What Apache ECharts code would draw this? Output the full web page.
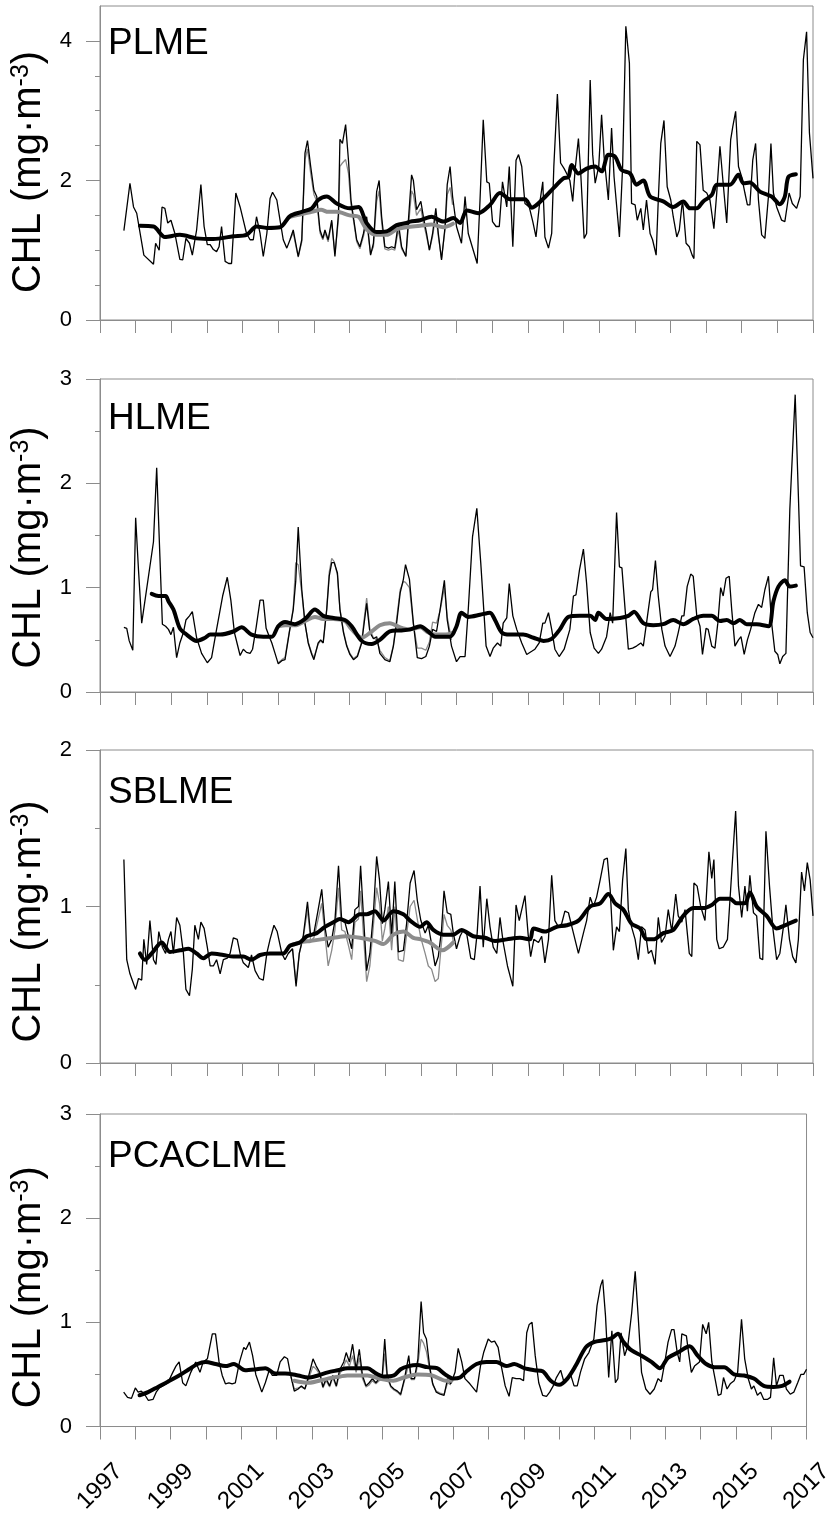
<!DOCTYPE html>
<html>
<head>
<meta charset="utf-8">
<script src="https://cdn.jsdelivr.net/npm/echarts@6/dist/echarts.min.js"></script>
<style>
html, body { margin: 0; padding: 0; background: #fff; }
#chart { width: 836px; height: 1516px; }
</style>
</head>
<body>
<div id="chart"></div>
<script>
// panels, y ticks and year labels
var panelNames = ['PLME', 'HLME', 'SBLME', 'PCACLME'];
var yMaxes = [4.5, 3, 2, 3];
var yTickLabels = [[0, 2, 4], [0, 1, 2, 3], [0, 1, 2], [0, 1, 2, 3]];
var yearLabels = [1997, 1999, 2001, 2003, 2005, 2007, 2009, 2011, 2013, 2015, 2017];

// [decimal year, CHL mg m-3]
// thin black = monthly, thick black = running mean, gray = second record (2002-2006)
var plmeMonthly = [[1997.67,1.28],[1997.84,1.96],[1997.94,1.62],[1998.03,1.53],[1998.23,0.93],[1998.50,0.80],[1998.56,1.10],[1998.66,1.00],[1998.74,1.62],[1998.82,1.60],[1998.90,1.39],[1998.99,1.43],[1999.10,1.24],[1999.24,0.87],[1999.32,0.86],[1999.41,1.17],[1999.51,1.10],[1999.59,0.93],[1999.71,1.29],[1999.83,1.94],[1999.92,1.34],[2000.01,1.08],[2000.09,1.08],[2000.18,1.01],[2000.27,0.98],[2000.34,1.05],[2000.41,1.34],[2000.51,0.84],[2000.61,0.81],[2000.69,0.81],[2000.81,1.82],[2000.93,1.62],[2001.02,1.43],[2001.11,1.24],[2001.21,1.15],[2001.30,1.15],[2001.39,1.48],[2001.49,1.24],[2001.58,0.91],[2001.68,1.24],[2001.77,1.74],[2001.84,1.83],[2001.96,1.72],[2002.05,1.43],[2002.14,1.15],[2002.24,1.03],[2002.33,1.15],[2002.42,1.29],[2002.56,0.91],[2002.66,1.15],[2002.75,2.39],[2002.82,2.57],[2002.91,2.20],[2003.00,1.86],[2003.08,1.77],[2003.17,1.29],[2003.25,1.17],[2003.31,1.29],[2003.40,1.15],[2003.50,1.43],[2003.59,0.91],[2003.69,1.53],[2003.73,2.59],[2003.80,2.53],[2003.89,2.80],[2003.97,2.29],[2004.04,1.72],[2004.12,1.43],[2004.20,1.15],[2004.29,1.05],[2004.39,1.24],[2004.48,1.48],[2004.59,0.93],[2004.67,1.10],[2004.76,1.84],[2004.83,2.00],[2004.90,1.48],[2004.99,1.05],[2005.09,1.03],[2005.18,1.05],[2005.27,1.03],[2005.37,1.39],[2005.46,1.05],[2005.58,0.91],[2005.74,2.08],[2005.79,2.00],[2005.88,1.58],[2006.00,1.70],[2006.07,1.48],[2006.16,1.24],[2006.24,1.00],[2006.33,1.24],[2006.42,1.60],[2006.49,1.24],[2006.58,0.86],[2006.68,1.34],[2006.74,1.94],[2006.82,2.20],[2006.89,1.77],[2007.00,1.34],[2007.14,1.10],[2007.24,1.77],[2007.33,1.24],[2007.47,1.00],[2007.58,0.81],[2007.66,1.72],[2007.75,2.87],[2007.85,1.98],[2007.92,1.96],[2008.01,1.41],[2008.11,1.34],[2008.20,1.34],[2008.29,1.98],[2008.41,1.62],[2008.48,2.20],[2008.58,1.05],[2008.67,2.29],[2008.74,2.37],[2008.83,2.20],[2008.92,1.67],[2009.04,1.62],[2009.14,1.41],[2009.23,1.19],[2009.32,1.62],[2009.42,1.98],[2009.48,1.19],[2009.58,1.03],[2009.67,1.24],[2009.73,2.20],[2009.83,3.24],[2009.92,2.25],[2010.02,2.17],[2010.09,2.10],[2010.18,2.00],[2010.26,1.70],[2010.33,2.17],[2010.42,2.60],[2010.48,2.15],[2010.58,1.17],[2010.65,1.24],[2010.75,3.44],[2010.82,2.37],[2010.89,1.96],[2010.99,2.20],[2011.07,2.94],[2011.14,2.34],[2011.26,1.72],[2011.35,2.75],[2011.42,2.05],[2011.57,1.19],[2011.66,2.20],[2011.75,4.21],[2011.85,3.68],[2011.91,1.67],[2012.01,1.65],[2012.07,1.43],[2012.17,1.60],[2012.24,1.29],[2012.33,1.72],[2012.43,1.24],[2012.50,1.15],[2012.60,0.93],[2012.66,1.72],[2012.73,2.53],[2012.82,2.86],[2012.91,1.91],[2013.01,1.72],[2013.08,1.48],[2013.18,1.19],[2013.25,1.29],[2013.34,1.72],[2013.44,1.10],[2013.53,1.05],[2013.61,0.93],[2013.66,0.88],[2013.74,2.56],[2013.83,2.51],[2013.92,1.86],[2014.02,1.82],[2014.11,1.72],[2014.22,1.31],[2014.30,1.82],[2014.39,2.49],[2014.48,1.96],[2014.58,1.39],[2014.69,2.58],[2014.75,2.77],[2014.83,2.99],[2014.91,2.20],[2015.00,2.05],[2015.09,1.82],[2015.16,1.65],[2015.23,1.65],[2015.31,2.29],[2015.39,2.53],[2015.47,1.72],[2015.56,1.22],[2015.65,1.17],[2015.75,1.77],[2015.82,2.53],[2015.89,1.82],[2015.98,1.62],[2016.12,1.43],[2016.21,1.41],[2016.33,1.82],[2016.42,1.67],[2016.54,1.60],[2016.64,1.77],[2016.73,3.73],[2016.82,4.13],[2016.90,2.68],[2017.00,2.03]];
var plmeMean = [[1998.12,1.35],[1998.50,1.34],[1998.82,1.19],[1999.24,1.22],[1999.71,1.17],[2000.18,1.16],[2000.74,1.20],[2001.11,1.22],[2001.39,1.34],[2001.68,1.32],[2002.05,1.33],[2002.33,1.49],[2002.66,1.55],[2002.94,1.60],[2003.12,1.72],[2003.36,1.77],[2003.64,1.67],[2004.01,1.60],[2004.25,1.62],[2004.48,1.39],[2004.76,1.26],[2005.04,1.27],[2005.32,1.36],[2005.60,1.39],[2005.70,1.41],[2005.98,1.43],[2006.30,1.48],[2006.63,1.41],[2006.91,1.46],[2007.10,1.39],[2007.29,1.57],[2007.61,1.53],[2007.94,1.65],[2008.22,1.82],[2008.50,1.73],[2008.92,1.73],[2009.11,1.61],[2009.44,1.74],[2009.72,1.89],[2010.00,2.03],[2010.14,2.05],[2010.23,2.22],[2010.42,2.10],[2010.65,2.17],[2010.89,2.20],[2011.07,2.13],[2011.26,2.37],[2011.45,2.34],[2011.63,2.15],[2011.87,2.10],[2012.05,1.94],[2012.24,2.00],[2012.43,1.77],[2012.80,1.70],[2013.08,1.62],[2013.36,1.70],[2013.55,1.60],[2013.74,1.60],[2013.92,1.70],[2014.16,1.79],[2014.30,1.94],[2014.67,1.94],[2014.91,2.08],[2015.05,1.96],[2015.23,1.97],[2015.51,1.84],[2015.84,1.77],[2016.07,1.66],[2016.21,1.77],[2016.31,2.05],[2016.52,2.09]];
var plmeMonthlyB = [[2002.33,1.15],[2002.42,1.25],[2002.56,0.90],[2002.66,1.12],[2002.75,2.30],[2002.82,2.45],[2002.91,2.10],[2003.00,1.80],[2003.08,1.70],[2003.17,1.25],[2003.25,1.15],[2003.31,1.25],[2003.40,1.12],[2003.50,1.40],[2003.59,0.95],[2003.69,1.45],[2003.73,2.20],[2003.80,2.25],[2003.89,2.30],[2003.97,2.10],[2004.04,1.65],[2004.12,1.40],[2004.20,1.12],[2004.29,1.02],[2004.39,1.20],[2004.48,1.40],[2004.59,0.95],[2004.67,1.05],[2004.76,1.70],[2004.83,1.85],[2004.90,1.40],[2004.99,1.02],[2005.09,1.00],[2005.18,1.02],[2005.27,1.00],[2005.37,1.30],[2005.46,1.02],[2005.58,0.92],[2005.74,1.85],[2005.79,1.80],[2005.88,1.50],[2006.00,1.60],[2006.07,1.40],[2006.16,1.20],[2006.24,1.00],[2006.33,1.20],[2006.42,1.50],[2006.49,1.20],[2006.58,0.88],[2006.68,1.30],[2006.74,1.80],[2006.82,1.90],[2006.89,1.65]];
var plmeMeanB = [[2002.33,1.48],[2002.66,1.52],[2002.94,1.55],[2003.20,1.58],[2003.40,1.55],[2003.64,1.55],[2004.00,1.50],[2004.25,1.48],[2004.48,1.30],[2004.76,1.22],[2005.04,1.22],[2005.32,1.30],[2005.60,1.33],[2005.98,1.35],[2006.30,1.37],[2006.63,1.33],[2006.90,1.38]];

var hlmeMonthly = [[1997.67,0.62],[1997.75,0.61],[1997.82,0.49],[1997.92,0.40],[1998.00,1.67],[1998.08,1.17],[1998.17,0.66],[1998.50,1.44],[1998.59,2.15],[1998.68,1.30],[1998.75,0.65],[1998.84,0.63],[1998.92,0.60],[1998.99,0.55],[1999.06,0.62],[1999.15,0.33],[1999.24,0.47],[1999.34,0.57],[1999.41,0.69],[1999.51,0.73],[1999.59,0.77],[1999.71,0.52],[1999.85,0.37],[2000.01,0.28],[2000.13,0.33],[2000.27,0.60],[2000.44,0.92],[2000.57,1.10],[2000.67,0.88],[2000.77,0.57],[2000.93,0.35],[2001.02,0.41],[2001.11,0.38],[2001.21,0.37],[2001.28,0.41],[2001.38,0.62],[2001.49,0.88],[2001.58,0.88],[2001.66,0.61],[2001.75,0.53],[2001.82,0.47],[2001.91,0.37],[2002.00,0.27],[2002.10,0.30],[2002.19,0.31],[2002.31,0.57],[2002.42,0.79],[2002.49,1.06],[2002.56,1.58],[2002.66,0.98],[2002.75,0.66],[2002.84,0.47],[2002.94,0.36],[2003.00,0.31],[2003.12,0.47],[2003.19,0.50],[2003.26,0.47],[2003.36,0.79],[2003.43,1.11],[2003.50,1.24],[2003.57,1.24],[2003.66,1.14],[2003.73,0.79],[2003.83,0.57],[2003.92,0.44],[2004.01,0.36],[2004.11,0.31],[2004.22,0.34],[2004.34,0.47],[2004.41,0.66],[2004.48,0.85],[2004.57,0.57],[2004.67,0.51],[2004.76,0.53],[2004.85,0.37],[2004.99,0.31],[2005.13,0.29],[2005.23,0.44],[2005.32,0.66],[2005.42,0.95],[2005.51,1.08],[2005.57,1.22],[2005.68,1.08],[2005.79,0.66],[2005.90,0.33],[2006.02,0.32],[2006.14,0.34],[2006.24,0.44],[2006.33,0.60],[2006.44,0.58],[2006.54,0.79],[2006.66,1.07],[2006.74,0.69],[2006.86,0.44],[2007.00,0.29],[2007.10,0.34],[2007.24,0.34],[2007.33,0.79],[2007.45,1.49],[2007.57,1.76],[2007.68,1.24],[2007.83,0.44],[2007.94,0.34],[2008.03,0.42],[2008.15,0.47],[2008.24,0.44],[2008.31,0.66],[2008.41,0.71],[2008.48,1.04],[2008.58,0.73],[2008.69,0.60],[2008.83,0.47],[2008.97,0.36],[2009.11,0.39],[2009.20,0.41],[2009.32,0.47],[2009.42,0.66],[2009.48,0.66],[2009.58,0.76],[2009.67,0.60],[2009.76,0.41],[2009.88,0.34],[2010.02,0.41],[2010.18,0.60],[2010.28,0.92],[2010.35,0.93],[2010.45,1.17],[2010.56,1.37],[2010.65,1.04],[2010.75,0.57],[2010.86,0.42],[2010.98,0.37],[2011.07,0.41],[2011.21,0.53],[2011.31,0.76],[2011.38,0.66],[2011.49,1.72],[2011.57,1.20],[2011.64,1.19],[2011.73,0.79],[2011.82,0.41],[2011.94,0.42],[2012.05,0.44],[2012.17,0.47],[2012.24,0.44],[2012.35,0.71],[2012.45,0.96],[2012.50,0.98],[2012.58,1.26],[2012.66,0.92],[2012.76,0.60],[2012.85,0.44],[2012.99,0.34],[2013.13,0.44],[2013.22,0.57],[2013.32,0.73],[2013.38,0.73],[2013.47,1.01],[2013.57,1.13],[2013.64,1.11],[2013.74,0.73],[2013.83,0.63],[2013.90,0.36],[2014.00,0.61],[2014.06,0.60],[2014.16,0.44],[2014.25,0.42],[2014.33,0.66],[2014.41,1.00],[2014.48,0.92],[2014.56,1.09],[2014.65,1.11],[2014.72,0.79],[2014.81,0.44],[2014.91,0.50],[2014.98,0.53],[2015.07,0.36],[2015.16,0.50],[2015.25,0.60],[2015.37,0.76],[2015.47,0.84],[2015.56,0.81],[2015.65,0.98],[2015.75,1.11],[2015.84,0.66],[2015.93,0.39],[2016.01,0.36],[2016.07,0.27],[2016.15,0.34],[2016.24,0.37],[2016.35,1.75],[2016.50,2.85],[2016.59,1.88],[2016.65,1.21],[2016.75,1.20],[2016.84,0.76],[2016.92,0.57],[2017.00,0.52]];
var hlmeMean = [[1998.45,0.94],[1998.64,0.92],[1998.84,0.92],[1998.92,0.87],[1999.06,0.79],[1999.24,0.61],[1999.43,0.55],[1999.71,0.49],[1999.95,0.52],[2000.09,0.55],[2000.37,0.55],[2000.74,0.58],[2000.97,0.62],[2001.25,0.55],[2001.58,0.53],[2001.82,0.53],[2002.00,0.63],[2002.19,0.67],[2002.47,0.65],[2002.75,0.70],[2003.03,0.79],[2003.26,0.73],[2003.55,0.71],[2003.87,0.69],[2004.06,0.63],[2004.34,0.49],[2004.62,0.46],[2004.85,0.50],[2005.13,0.58],[2005.42,0.59],[2005.70,0.60],[2005.98,0.63],[2006.21,0.58],[2006.40,0.53],[2006.82,0.53],[2007.00,0.63],[2007.14,0.76],[2007.33,0.72],[2007.66,0.74],[2007.94,0.76],[2008.08,0.69],[2008.27,0.57],[2008.50,0.55],[2008.87,0.55],[2009.16,0.52],[2009.44,0.49],[2009.67,0.51],[2009.90,0.60],[2010.14,0.72],[2010.46,0.73],[2010.75,0.73],[2010.89,0.69],[2010.98,0.76],[2011.21,0.70],[2011.59,0.71],[2011.82,0.73],[2011.98,0.77],[2012.24,0.66],[2012.52,0.64],[2012.80,0.65],[2013.08,0.69],[2013.36,0.65],[2013.64,0.70],[2013.92,0.73],[2014.16,0.73],[2014.39,0.68],[2014.58,0.69],[2014.77,0.66],[2014.95,0.69],[2015.14,0.65],[2015.42,0.65],[2015.75,0.63],[2015.89,0.87],[2016.03,1.01],[2016.21,1.07],[2016.35,1.01],[2016.52,1.02]];
var hlmeMonthlyB = [[2002.00,0.28],[2002.10,0.31],[2002.19,0.33],[2002.31,0.58],[2002.42,0.80],[2002.49,1.24],[2002.56,1.22],[2002.66,0.95],[2002.75,0.65],[2002.84,0.48],[2002.94,0.37],[2003.00,0.33],[2003.12,0.46],[2003.19,0.49],[2003.26,0.47],[2003.36,0.80],[2003.43,1.15],[2003.50,1.28],[2003.57,1.25],[2003.66,1.12],[2003.73,0.80],[2003.83,0.58],[2003.92,0.45],[2004.01,0.37],[2004.11,0.32],[2004.22,0.35],[2004.34,0.48],[2004.41,0.70],[2004.48,0.90],[2004.57,0.60],[2004.67,0.52],[2004.76,0.50],[2004.85,0.40],[2004.99,0.33],[2005.13,0.30],[2005.23,0.45],[2005.32,0.70],[2005.42,0.98],[2005.51,1.06],[2005.57,1.05],[2005.68,1.00],[2005.79,0.65],[2005.90,0.42],[2006.02,0.42],[2006.14,0.40],[2006.24,0.48],[2006.33,0.67],[2006.44,0.66],[2006.54,0.78],[2006.66,1.00],[2006.74,0.72],[2006.86,0.50]];
var hlmeMeanB = [[2002.00,0.63],[2002.20,0.64],[2002.47,0.64],[2002.75,0.68],[2003.03,0.72],[2003.26,0.70],[2003.55,0.70],[2003.87,0.68],[2004.06,0.60],[2004.34,0.52],[2004.62,0.58],[2004.85,0.64],[2005.13,0.66],[2005.42,0.62],[2005.70,0.60],[2005.98,0.62],[2006.21,0.57],[2006.40,0.55],[2006.70,0.55],[2006.90,0.57]];

var sblmeMonthly = [[1997.67,1.30],[1997.75,0.66],[1997.84,0.57],[1998.00,0.47],[1998.08,0.54],[1998.17,0.53],[1998.23,0.79],[1998.31,0.63],[1998.40,0.91],[1998.50,0.66],[1998.57,0.63],[1998.65,0.84],[1998.75,0.74],[1998.84,0.70],[1998.92,0.79],[1998.99,0.84],[1999.06,0.70],[1999.15,0.93],[1999.24,0.88],[1999.34,0.70],[1999.41,0.47],[1999.51,0.43],[1999.59,0.60],[1999.66,0.88],[1999.76,0.79],[1999.83,0.90],[1999.92,0.86],[2000.01,0.74],[2000.09,0.62],[2000.18,0.62],[2000.27,0.66],[2000.37,0.57],[2000.46,0.66],[2000.57,0.67],[2000.65,0.70],[2000.74,0.80],[2000.85,0.79],[2000.93,0.70],[2001.02,0.64],[2001.16,0.61],[2001.25,0.69],[2001.35,0.59],[2001.47,0.54],[2001.58,0.53],[2001.68,0.70],[2001.77,0.79],[2001.88,0.88],[2001.97,0.84],[2002.10,0.70],[2002.19,0.66],[2002.28,0.70],[2002.40,0.73],[2002.50,0.49],[2002.59,0.70],[2002.70,0.81],[2002.82,1.03],[2002.91,0.81],[2003.00,0.83],[2003.12,0.98],[2003.22,1.11],[2003.31,0.87],[2003.40,0.74],[2003.50,0.79],[2003.59,0.91],[2003.69,1.26],[2003.78,0.91],[2003.87,0.90],[2003.97,0.81],[2004.06,0.73],[2004.15,0.98],[2004.25,1.00],[2004.31,1.26],[2004.39,0.94],[2004.48,0.59],[2004.57,0.70],[2004.67,0.96],[2004.76,1.32],[2004.84,1.17],[2004.92,0.89],[2004.99,0.98],[2005.09,1.16],[2005.18,0.81],[2005.27,1.16],[2005.37,0.71],[2005.51,0.72],[2005.60,0.89],[2005.70,1.15],[2005.81,1.23],[2005.90,1.04],[2006.00,0.91],[2006.12,0.83],[2006.21,0.88],[2006.30,0.76],[2006.40,0.62],[2006.49,0.68],[2006.58,0.85],[2006.65,1.10],[2006.74,0.96],[2006.84,0.95],[2006.91,0.83],[2007.00,0.73],[2007.10,0.81],[2007.19,0.85],[2007.29,0.82],[2007.40,0.67],[2007.50,0.66],[2007.58,0.83],[2007.66,1.13],[2007.75,0.74],[2007.85,1.05],[2007.94,0.87],[2008.03,0.74],[2008.13,0.70],[2008.22,0.93],[2008.31,0.77],[2008.43,0.62],[2008.58,0.49],[2008.67,1.01],[2008.76,0.91],[2008.92,1.07],[2009.01,0.82],[2009.08,0.68],[2009.17,0.79],[2009.30,0.77],[2009.39,0.81],[2009.48,0.64],[2009.58,0.79],[2009.67,1.20],[2009.76,0.91],[2009.86,0.87],[2009.95,0.89],[2010.04,0.97],[2010.14,0.96],[2010.28,0.83],[2010.42,0.70],[2010.56,0.83],[2010.65,0.91],[2010.75,1.06],[2010.84,1.00],[2010.93,1.06],[2011.03,1.17],[2011.14,1.30],[2011.23,1.31],[2011.31,1.11],[2011.40,0.72],[2011.49,0.87],[2011.57,0.84],[2011.66,1.17],[2011.75,1.37],[2011.82,0.98],[2011.91,0.87],[2012.01,0.79],[2012.10,0.66],[2012.19,0.87],[2012.29,0.85],[2012.38,0.70],[2012.47,0.72],[2012.57,0.63],[2012.66,0.93],[2012.75,0.77],[2012.85,0.81],[2012.94,0.98],[2013.04,0.84],[2013.15,1.08],[2013.22,0.94],[2013.32,0.90],[2013.41,0.98],[2013.53,0.70],[2013.60,0.68],[2013.66,1.15],[2013.75,1.13],[2013.85,1.00],[2013.97,0.91],[2014.08,1.35],[2014.16,1.18],[2014.22,1.30],[2014.30,0.79],[2014.37,0.73],[2014.48,0.74],[2014.60,0.79],[2014.69,1.11],[2014.83,1.61],[2014.91,1.13],[2015.00,0.93],[2015.09,1.13],[2015.16,0.97],[2015.23,1.20],[2015.33,0.96],[2015.42,0.94],[2015.51,0.67],[2015.59,0.66],[2015.68,1.48],[2015.78,1.13],[2015.87,0.87],[2015.98,0.66],[2016.07,0.70],[2016.17,0.87],[2016.24,1.01],[2016.34,0.79],[2016.43,0.68],[2016.52,0.64],[2016.59,0.79],[2016.68,1.22],[2016.76,1.10],[2016.84,1.28],[2016.92,1.17],[2017.00,0.94]];
var sblmeMean = [[1998.12,0.70],[1998.26,0.66],[1998.45,0.70],[1998.73,0.77],[1998.96,0.71],[1999.24,0.72],[1999.48,0.73],[1999.71,0.70],[1999.90,0.67],[2000.13,0.70],[2000.46,0.69],[2000.74,0.68],[2001.02,0.68],[2001.25,0.66],[2001.49,0.69],[2001.77,0.70],[2002.14,0.70],[2002.33,0.75],[2002.61,0.77],[2002.80,0.81],[2003.08,0.83],[2003.31,0.87],[2003.55,0.90],[2003.73,0.92],[2003.97,0.90],[2004.29,0.95],[2004.48,0.95],[2004.71,0.97],[2004.95,0.91],[2005.23,0.97],[2005.51,0.95],[2005.70,0.91],[2005.98,0.87],[2006.16,0.90],[2006.35,0.85],[2006.63,0.82],[2006.91,0.82],[2007.14,0.85],[2007.47,0.81],[2007.80,0.80],[2008.08,0.78],[2008.41,0.79],[2008.78,0.80],[2009.06,0.79],[2009.16,0.86],[2009.48,0.84],[2009.81,0.87],[2010.09,0.88],[2010.42,0.91],[2010.75,1.00],[2011.03,1.02],[2011.26,1.08],[2011.45,1.02],[2011.68,0.98],[2011.91,0.89],[2012.15,0.86],[2012.33,0.79],[2012.52,0.79],[2012.80,0.83],[2013.08,0.85],[2013.36,0.94],[2013.64,0.99],[2013.92,0.99],[2014.16,1.01],[2014.39,1.05],[2014.67,1.05],[2014.86,1.02],[2015.09,1.02],[2015.23,1.09],[2015.42,1.00],[2015.70,0.94],[2015.98,0.86],[2016.21,0.88],[2016.52,0.91]];
var sblmeMonthlyB = [[2002.28,0.70],[2002.40,0.73],[2002.50,0.52],[2002.59,0.70],[2002.70,0.80],[2002.82,0.98],[2002.91,0.78],[2003.00,0.80],[2003.12,0.92],[2003.22,1.02],[2003.31,0.82],[2003.40,0.62],[2003.50,0.72],[2003.59,0.85],[2003.69,1.12],[2003.78,0.85],[2003.87,0.84],[2003.97,0.75],[2004.06,0.66],[2004.15,0.90],[2004.25,0.92],[2004.31,1.10],[2004.39,0.82],[2004.48,0.52],[2004.57,0.62],[2004.67,0.88],[2004.76,1.12],[2004.84,1.02],[2004.92,0.78],[2004.99,0.86],[2005.09,1.00],[2005.18,0.72],[2005.27,1.00],[2005.37,0.66],[2005.51,0.65],[2005.60,0.82],[2005.70,1.00],[2005.81,1.04],[2005.90,0.92],[2006.00,0.80],[2006.12,0.70],[2006.21,0.62],[2006.30,0.60],[2006.40,0.52],[2006.49,0.54],[2006.58,0.77],[2006.65,0.95],[2006.74,0.88],[2006.84,0.85],[2006.91,0.78]];
var sblmeMeanB = [[2002.33,0.75],[2002.61,0.77],[2002.90,0.78],[2003.20,0.79],[2003.55,0.80],[2003.90,0.81],[2004.29,0.80],[2004.71,0.78],[2004.95,0.76],[2005.23,0.82],[2005.51,0.84],[2005.79,0.80],[2006.00,0.79],[2006.25,0.77],[2006.60,0.72],[2006.91,0.77]];

var pcaclmeMonthly = [[1997.67,0.33],[1997.78,0.28],[1997.89,0.27],[1998.00,0.37],[1998.08,0.33],[1998.17,0.34],[1998.26,0.31],[1998.37,0.25],[1998.50,0.26],[1998.59,0.33],[1998.68,0.37],[1998.78,0.39],[1998.92,0.42],[1999.06,0.52],[1999.15,0.58],[1999.24,0.62],[1999.34,0.42],[1999.43,0.39],[1999.57,0.52],[1999.71,0.62],[1999.83,0.52],[1999.92,0.62],[2000.04,0.65],[2000.18,0.89],[2000.27,0.89],[2000.37,0.62],[2000.46,0.49],[2000.55,0.41],[2000.65,0.42],[2000.74,0.41],[2000.83,0.42],[2000.95,0.62],[2001.07,0.76],[2001.13,0.74],[2001.23,0.81],[2001.32,0.68],[2001.41,0.50],[2001.49,0.42],[2001.58,0.33],[2001.68,0.42],[2001.79,0.54],[2001.88,0.49],[2002.00,0.49],[2002.10,0.62],[2002.22,0.67],[2002.31,0.65],[2002.40,0.49],[2002.50,0.34],[2002.61,0.36],[2002.70,0.39],[2002.80,0.36],[2002.91,0.49],[2003.03,0.65],[2003.12,0.58],[2003.22,0.52],[2003.31,0.38],[2003.40,0.46],[2003.50,0.39],[2003.59,0.49],[2003.69,0.39],[2003.78,0.54],[2003.90,0.62],[2003.97,0.71],[2004.06,0.62],[2004.15,0.79],[2004.25,0.55],[2004.34,0.74],[2004.43,0.49],[2004.53,0.39],[2004.62,0.42],[2004.71,0.46],[2004.81,0.42],[2004.90,0.46],[2004.99,0.49],[2005.06,0.84],[2005.13,0.49],[2005.23,0.39],[2005.32,0.36],[2005.42,0.34],[2005.51,0.31],[2005.62,0.46],[2005.74,0.68],[2005.81,0.46],[2005.90,0.46],[2006.00,0.65],[2006.09,1.20],[2006.16,0.90],[2006.24,0.84],[2006.33,0.58],[2006.42,0.41],[2006.52,0.33],[2006.63,0.31],[2006.74,0.30],[2006.84,0.46],[2006.93,0.41],[2007.05,0.52],[2007.14,0.75],[2007.24,0.62],[2007.33,0.46],[2007.47,0.41],[2007.66,0.33],[2007.77,0.58],[2007.86,0.71],[2007.99,0.84],[2008.08,0.81],[2008.17,0.82],[2008.27,0.76],[2008.36,0.58],[2008.47,0.39],[2008.58,0.29],[2008.67,0.47],[2008.78,0.46],[2008.89,0.46],[2008.99,0.44],[2009.08,0.90],[2009.15,0.98],[2009.23,1.00],[2009.32,0.68],[2009.42,0.42],[2009.53,0.30],[2009.64,0.29],[2009.73,0.33],[2009.83,0.39],[2009.92,0.47],[2010.04,0.54],[2010.14,0.42],[2010.23,0.47],[2010.32,0.50],[2010.42,0.39],[2010.51,0.39],[2010.60,0.52],[2010.72,0.65],[2010.84,0.71],[2010.98,0.84],[2011.07,1.16],[2011.17,1.35],[2011.23,1.41],[2011.31,1.06],[2011.40,0.47],[2011.49,0.92],[2011.59,0.42],[2011.66,0.46],[2011.75,0.90],[2011.85,0.68],[2011.94,0.77],[2012.05,1.09],[2012.15,1.49],[2012.24,1.03],[2012.33,0.52],[2012.45,0.36],[2012.57,0.31],[2012.69,0.36],[2012.80,0.46],[2012.89,0.43],[2012.99,0.62],[2013.08,0.81],[2013.18,0.93],[2013.25,0.93],[2013.34,0.71],[2013.41,0.62],[2013.47,0.89],[2013.60,0.87],[2013.66,0.71],[2013.74,0.52],[2013.83,0.58],[2013.97,0.62],[2014.06,0.98],[2014.16,0.89],[2014.23,1.00],[2014.32,0.62],[2014.41,0.46],[2014.50,0.30],[2014.58,0.31],[2014.65,0.47],[2014.75,0.36],[2014.84,0.41],[2014.95,0.44],[2015.05,0.52],[2015.16,1.03],[2015.25,0.65],[2015.35,0.46],[2015.44,0.36],[2015.51,0.39],[2015.61,0.30],[2015.70,0.33],[2015.79,0.26],[2015.89,0.26],[2015.98,0.28],[2016.07,0.66],[2016.15,0.39],[2016.24,0.49],[2016.34,0.49],[2016.43,0.36],[2016.54,0.31],[2016.64,0.33],[2016.75,0.42],[2016.84,0.50],[2016.92,0.50],[2017.00,0.55]];
var pcaclmeMean = [[1998.12,0.30],[1998.36,0.33],[1998.64,0.38],[1998.92,0.43],[1999.24,0.49],[1999.52,0.55],[1999.76,0.60],[1999.99,0.62],[2000.27,0.60],[2000.55,0.58],[2000.79,0.60],[2001.11,0.54],[2001.44,0.55],[2001.68,0.56],[2001.96,0.51],[2002.24,0.51],[2002.61,0.49],[2002.89,0.47],[2003.17,0.49],[2003.45,0.52],[2003.73,0.54],[2004.01,0.56],[2004.29,0.56],[2004.57,0.56],[2004.81,0.51],[2005.04,0.48],[2005.32,0.49],[2005.51,0.55],[2005.74,0.58],[2005.98,0.59],[2006.26,0.57],[2006.54,0.56],[2006.77,0.50],[2007.00,0.46],[2007.19,0.47],[2007.38,0.53],[2007.66,0.60],[2007.94,0.62],[2008.22,0.62],[2008.50,0.58],[2008.73,0.60],[2009.01,0.56],[2009.30,0.54],[2009.53,0.53],[2009.76,0.44],[2010.00,0.40],[2010.23,0.46],[2010.46,0.58],[2010.75,0.76],[2010.98,0.81],[2011.31,0.83],[2011.49,0.85],[2011.66,0.89],[2011.82,0.81],[2012.05,0.73],[2012.33,0.68],[2012.61,0.62],[2012.85,0.56],[2013.08,0.66],[2013.36,0.71],[2013.69,0.77],[2013.92,0.68],[2014.16,0.60],[2014.39,0.57],[2014.67,0.57],[2014.95,0.50],[2015.23,0.49],[2015.51,0.46],[2015.79,0.39],[2016.07,0.38],[2016.31,0.39],[2016.52,0.43]];
var pcaclmeMonthlyB = [[2002.40,0.48],[2002.50,0.36],[2002.61,0.37],[2002.70,0.38],[2002.80,0.36],[2002.91,0.46],[2003.03,0.58],[2003.12,0.55],[2003.22,0.50],[2003.31,0.37],[2003.40,0.44],[2003.50,0.38],[2003.59,0.47],[2003.69,0.38],[2003.78,0.50],[2003.90,0.58],[2003.97,0.64],[2004.06,0.58],[2004.15,0.68],[2004.25,0.52],[2004.34,0.66],[2004.43,0.46],[2004.53,0.38],[2004.62,0.40],[2004.71,0.44],[2004.81,0.41],[2004.90,0.44],[2004.99,0.46],[2005.06,0.70],[2005.13,0.47],[2005.23,0.38],[2005.32,0.35],[2005.42,0.33],[2005.51,0.30],[2005.62,0.44],[2005.74,0.60],[2005.81,0.45],[2005.90,0.45],[2006.00,0.60],[2006.09,0.84],[2006.16,0.80],[2006.24,0.72],[2006.33,0.55],[2006.42,0.40],[2006.52,0.34],[2006.63,0.32],[2006.74,0.31],[2006.84,0.42],[2006.93,0.40]];
var pcaclmeMeanB = [[2002.50,0.44],[2002.90,0.42],[2003.45,0.46],[2003.80,0.48],[2004.00,0.49],[2004.57,0.49],[2004.90,0.46],[2005.30,0.44],[2005.60,0.47],[2005.98,0.50],[2006.40,0.49],[2006.80,0.44],[2006.95,0.44]];

var monthly = [plmeMonthly, hlmeMonthly, sblmeMonthly, pcaclmeMonthly];
var means = [plmeMean, hlmeMean, sblmeMean, pcaclmeMean];
var monthlyB = [plmeMonthlyB, hlmeMonthlyB, sblmeMonthlyB, pcaclmeMonthlyB];
var meansB = [plmeMeanB, hlmeMeanB, sblmeMeanB, pcaclmeMeanB];

// layout
var gridTops = [6, 379, 750, 1114];
var gridHeights = [314, 313, 313, 314];
var titleTops = [25, 400, 774, 1138];
var yNameShift = [18, 24, 30, 34];   // right padding pushes the rotated axis name down by half
var axisGray = '#8c8c8c';
var fontFam = '"Liberation Sans", Arial, sans-serif';

var chart = echarts.init(document.getElementById('chart'));

var grids = [], xAxes = [], yAxes = [], titles = [], series = [];
panelNames.forEach(function (name, i) {
  var last = i === panelNames.length - 1;
  grids.push({
    left: 100, right: 23, top: gridTops[i], height: gridHeights[i],
    show: true, borderColor: axisGray, borderWidth: 1, backgroundColor: '#fff'
  });
  xAxes.push({
    gridIndex: i, type: 'value', min: 1997, max: 2017, interval: 1,
    axisLine: { lineStyle: { color: axisGray, width: 1 } },
    axisTick: { length: 13, lineStyle: { color: axisGray } },
    splitLine: { show: false },
    axisLabel: {
      show: last,
      customValues: yearLabels,
      rotate: 45, align: 'center', verticalAlign: 'middle', margin: 60,
      fontSize: 24, color: '#000', fontFamily: fontFam,
      formatter: function (v) { return String(v); }
    }
  });
  yAxes.push({
    gridIndex: i, type: 'value', min: 0, max: yMaxes[i],
    interval: yTickLabels[i][1] - yTickLabels[i][0],
    axisLine: { show: true, lineStyle: { color: axisGray, width: 1 } },
    axisTick: { show: true, length: 14, customValues: yTickLabels[i], lineStyle: { color: axisGray } },
    minorTick: { show: true, splitNumber: i === 0 ? 4 : 2, length: 5, lineStyle: { color: axisGray } },
    splitLine: { show: false },
    axisLabel: { customValues: yTickLabels[i], margin: 28, fontSize: 22, color: '#000', fontFamily: fontFam },
    name: '{a|CHL (mg·m}{s|-3}{a|)}',
    nameLocation: 'middle', nameRotate: 90, nameGap: 50,
    nameTextStyle: {
      fontFamily: fontFam, color: '#000',
      padding: [0, yNameShift[i], 0, 0],
      rich: {
        a: { fontSize: 40, fontFamily: fontFam, color: '#000' },
        s: { fontSize: 25, fontFamily: fontFam, color: '#000', verticalAlign: 'top' }
      }
    }
  });
  titles.push({
    text: name, left: 108, top: titleTops[i], padding: 0,
    textStyle: { fontSize: 37, fontWeight: 'normal', color: '#000', fontFamily: fontFam }
  });
  series.push({
    type: 'line', xAxisIndex: i, yAxisIndex: i, data: monthlyB[i],
    symbol: 'none', lineStyle: { color: '#8a8a8a', width: 1.3 }, z: 2
  });
  series.push({
    type: 'line', xAxisIndex: i, yAxisIndex: i, data: monthly[i],
    symbol: 'none', lineStyle: { color: '#000', width: 1.3 }, z: 3
  });
  series.push({
    type: 'line', xAxisIndex: i, yAxisIndex: i, data: meansB[i], smooth: 0.3,
    symbol: 'none', lineStyle: { color: '#8c8c8c', width: 4, cap: 'round' }, z: 4
  });
  series.push({
    type: 'line', xAxisIndex: i, yAxisIndex: i, data: means[i], smooth: 0.3,
    symbol: 'none', lineStyle: { color: '#000', width: 4, cap: 'round' }, z: 5
  });
});

chart.setOption({
  animation: false,
  backgroundColor: '#fff',
  title: titles,
  grid: grids,
  xAxis: xAxes,
  yAxis: yAxes,
  series: series
});
</script>
</body>
</html>
